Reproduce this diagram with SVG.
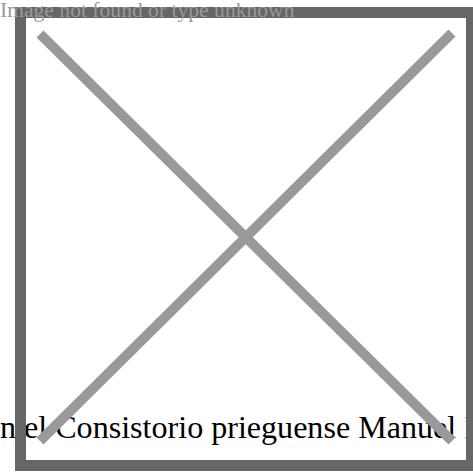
<svg xmlns="http://www.w3.org/2000/svg" width="473" height="473" viewBox="0 0 473 473">
<style>
.cap{font-family:"Liberation Serif","Times New Roman",serif;fill:#000}
.alt{font-family:"Liberation Serif","Times New Roman",serif;fill:#999}
.x{stroke:#999;stroke-width:10;stroke-linecap:butt}
</style>
<rect width="473" height="473" fill="#fff"/>
<text class="cap" x="0" y="438" font-size="32.1">n el Consistorio prieguense Manuel I</text>
<rect x="20.5" y="12.5" width="451" height="453" fill="none" stroke="#666" stroke-width="11"/>
<g id="cross">
<line class="x" x1="40" y1="34" x2="452" y2="441"/>
<line class="x" x1="452" y1="33" x2="40" y2="441"/>
</g>
<text class="alt" x="0" y="17" font-size="21.6">Image not found or type unknown</text>
</svg>
